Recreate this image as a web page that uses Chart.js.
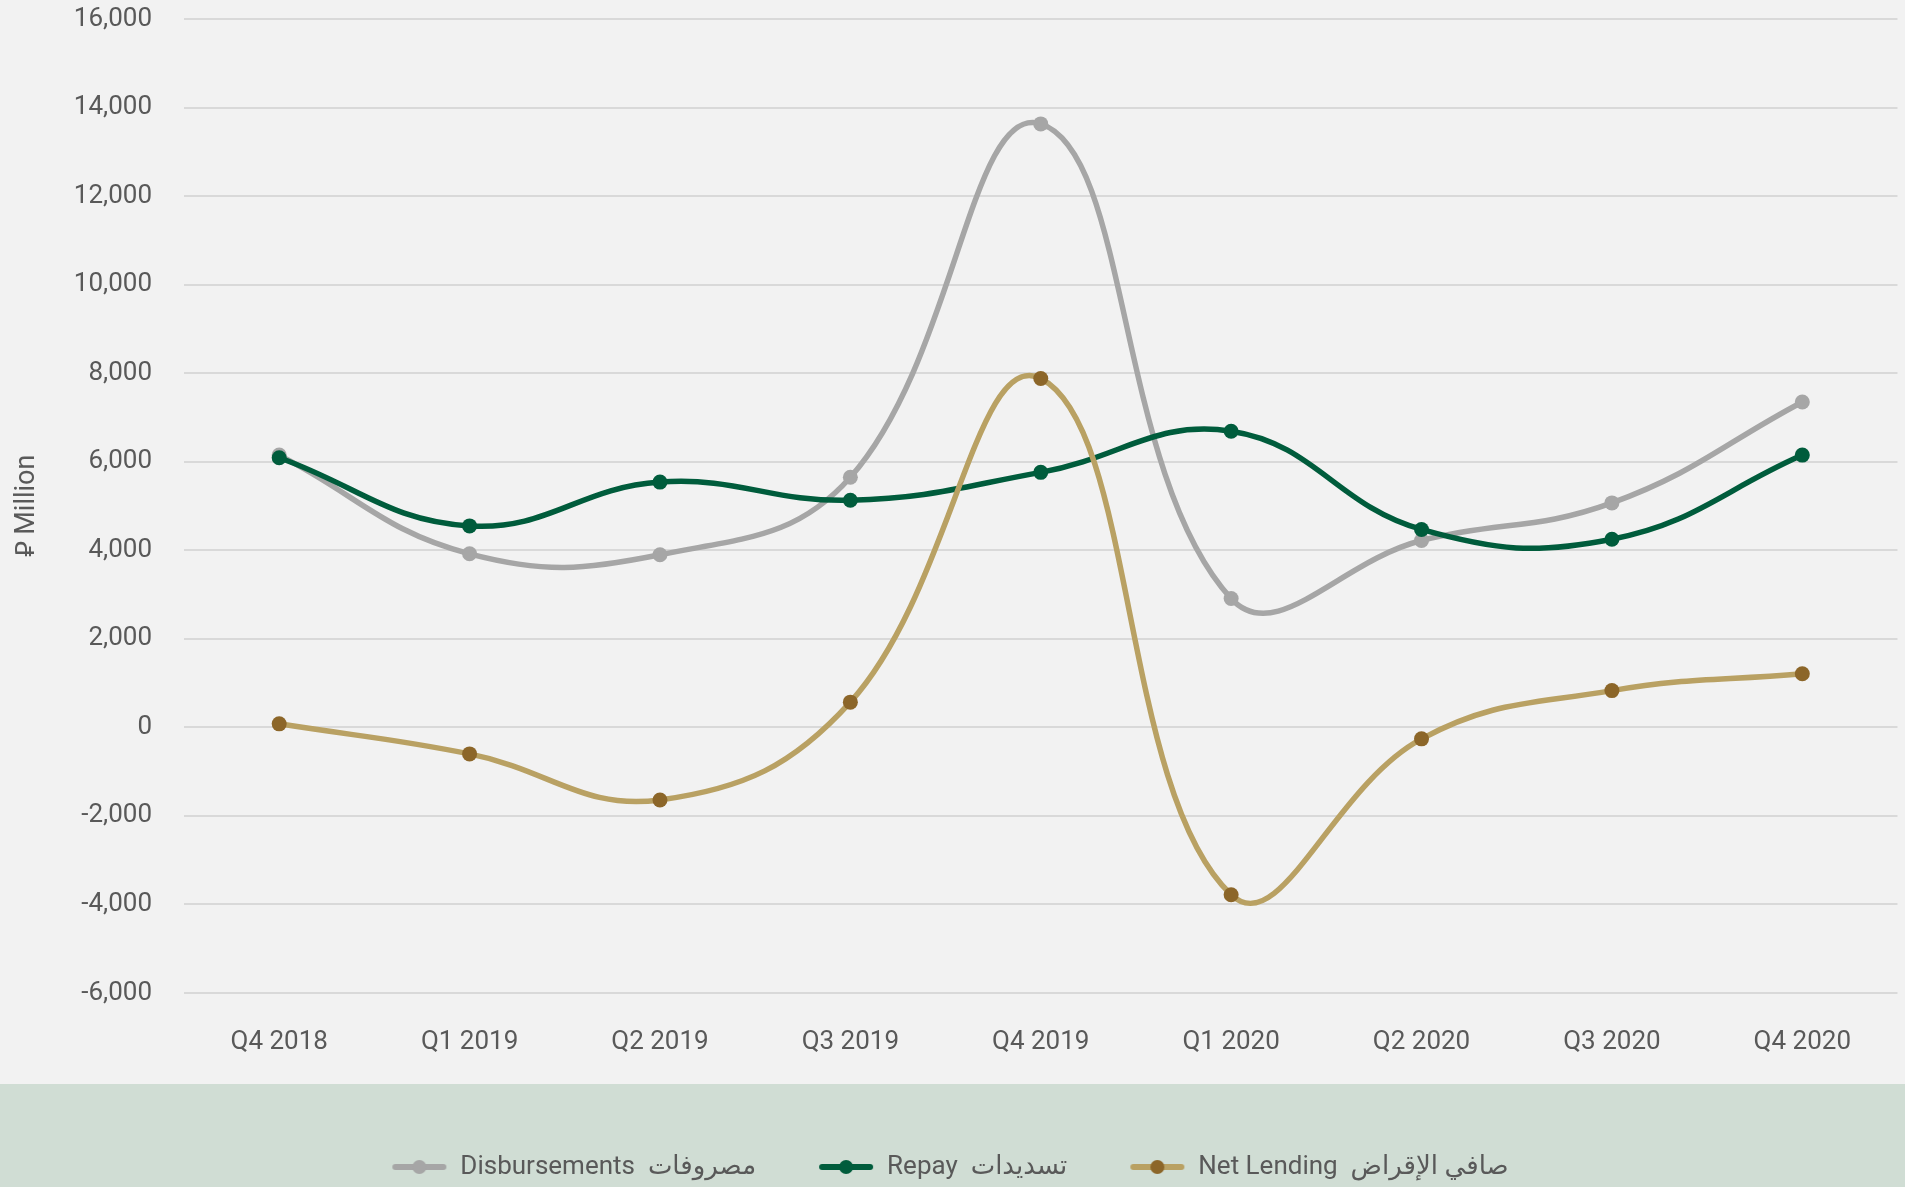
<!DOCTYPE html>
<html>
<head>
<meta charset="utf-8">
<script src="https://cdn.jsdelivr.net/npm/chart.js@4"></script>
<style>
  html, body { margin: 0; padding: 0; background: #f2f2f2; }
  #wrap { width: 1905px; height: 1187px; position: relative; }
</style>
</head>
<body>
<div id="wrap"><canvas id="lendingChart"></canvas></div>
<script>
// Данные графика
const quarters = ['Q4 2018', 'Q1 2019', 'Q2 2019', 'Q3 2019', 'Q4 2019', 'Q1 2020', 'Q2 2020', 'Q3 2020', 'Q4 2020'];
const disbursements = [6150, 3920, 3900, 5650, 13630, 2910, 4220, 5070, 7350];
const repay = [6090, 4550, 5540, 5130, 5760, 6690, 4470, 4250, 6150];
const netLending = [80, -600, -1640, 570, 7880, -3780, -260, 830, 1210];
const yTicks = [-6000, 16000, 2000]; // min, max, шаг
const seriesNames = ['Disbursements  مصروفات', 'Repay  تسديدات', 'Net Lending  صافي الإقراض'];

const FONT = 'Roboto, "DejaVu Sans", sans-serif';
const TEXT = '#595959';

// Маркер легенды: линия с точкой по центру
function legendMarker(lineColor, dotColor) {
    const c = document.createElement('canvas');
    c.width = 56; c.height = 16;
    const g = c.getContext('2d');
    g.strokeStyle = lineColor;
    g.lineWidth = 6;
    g.lineCap = 'round';
    g.beginPath(); g.moveTo(4, 8); g.lineTo(52, 8); g.stroke();
    g.fillStyle = dotColor;
    g.beginPath(); g.arc(28, 8, 7, 0, Math.PI * 2); g.fill();
    return c;
}
const markers = [
    legendMarker('#a6a6a6', '#a6a6a6'),
    legendMarker('#005c3c', '#005c3c'),
    legendMarker('#b9a163', '#8c6629')
];

// Зелёная полоса под графиком
const bandPlugin = {
    id: 'band',
    beforeDraw(chart) {
        const ctx = chart.ctx;
        ctx.save();
        ctx.fillStyle = '#d0ddd4';
        ctx.fillRect(0, 1084, chart.width, chart.height - 1084);
        ctx.restore();
    },
    afterUpdate(chart) {
        chart.legend.top += 3;
        chart.legend.bottom += 3;
    }
};

const ctx = document.getElementById('lendingChart').getContext('2d');
new Chart(ctx, {
    type: 'line',
    data: {
        labels: quarters,
        datasets: [{
            label: seriesNames[0],
            data: disbursements,
            borderColor: '#a6a6a6',
            backgroundColor: '#a6a6a6',
            pointBackgroundColor: '#a6a6a6',
            order: 2
        }, {
            label: seriesNames[1],
            data: repay,
            borderColor: '#005c3c',
            backgroundColor: '#005c3c',
            pointBackgroundColor: '#005c3c',
            order: 1
        }, {
            label: seriesNames[2],
            data: netLending,
            borderColor: '#b9a163',
            backgroundColor: '#b9a163',
            pointBackgroundColor: '#8c6629',
            order: 0
        }]
    },
    options: {
        responsive: true,
        maintainAspectRatio: false,
        animation: false,
        layout: { padding: { top: 0, right: 5, left: 0, bottom: 0 } },
        elements: {
            line: { borderWidth: 5.5, tension: 0.42, fill: false },
            point: { radius: 7.5, borderWidth: 0, hoverRadius: 7.5, pointStyle: 'circle' }
        },
        plugins: {
            tooltip: { enabled: false },
            legend: {
                position: 'bottom',
                labels: {
                    usePointStyle: true,
                    pointStyleWidth: 56,
                    padding: 62,
                    color: TEXT,
                    font: { family: FONT, size: 26 },
                    generateLabels(chart) {
                        return chart.data.datasets.map((ds, i) => ({
                            text: ds.label,
                            pointStyle: markers[i],
                            fontColor: TEXT,
                            fillStyle: ds.borderColor,
                            strokeStyle: ds.borderColor,
                            lineWidth: 0,
                            hidden: false,
                            datasetIndex: i
                        }));
                    }
                }
            }
        },
        scales: {
            x: {
                offset: true,
                grid: { display: false, drawTicks: false, offset: true },
                border: { display: false },
                ticks: { color: TEXT, font: { family: FONT, size: 26 }, padding: 34, maxRotation: 0 },
                afterFit(scale) { scale.height = 96; }
            },
            y: {
                min: yTicks[0],
                max: yTicks[1],
                grid: { color: '#d9d9d9', lineWidth: 2, drawTicks: false },
                border: { display: false },
                ticks: {
                    stepSize: yTicks[2],
                    color: TEXT,
                    padding: 32,
                    font: { family: FONT, size: 26 },
                    callback: v => v.toLocaleString('en-US')
                },
                title: {
                    display: true,
                    text: '\u20C1 Million',
                    color: TEXT,
                    font: { family: FONT, size: 27 },
                    padding: { top: 11, bottom: 0 }
                },
                afterFit(scale) {
                    scale.width = 184;
                    scale.paddingTop = 19;
                    scale.paddingBottom = 0;
                }
            }
        }
    },
    plugins: [bandPlugin]
});
</script>
</body>
</html>
